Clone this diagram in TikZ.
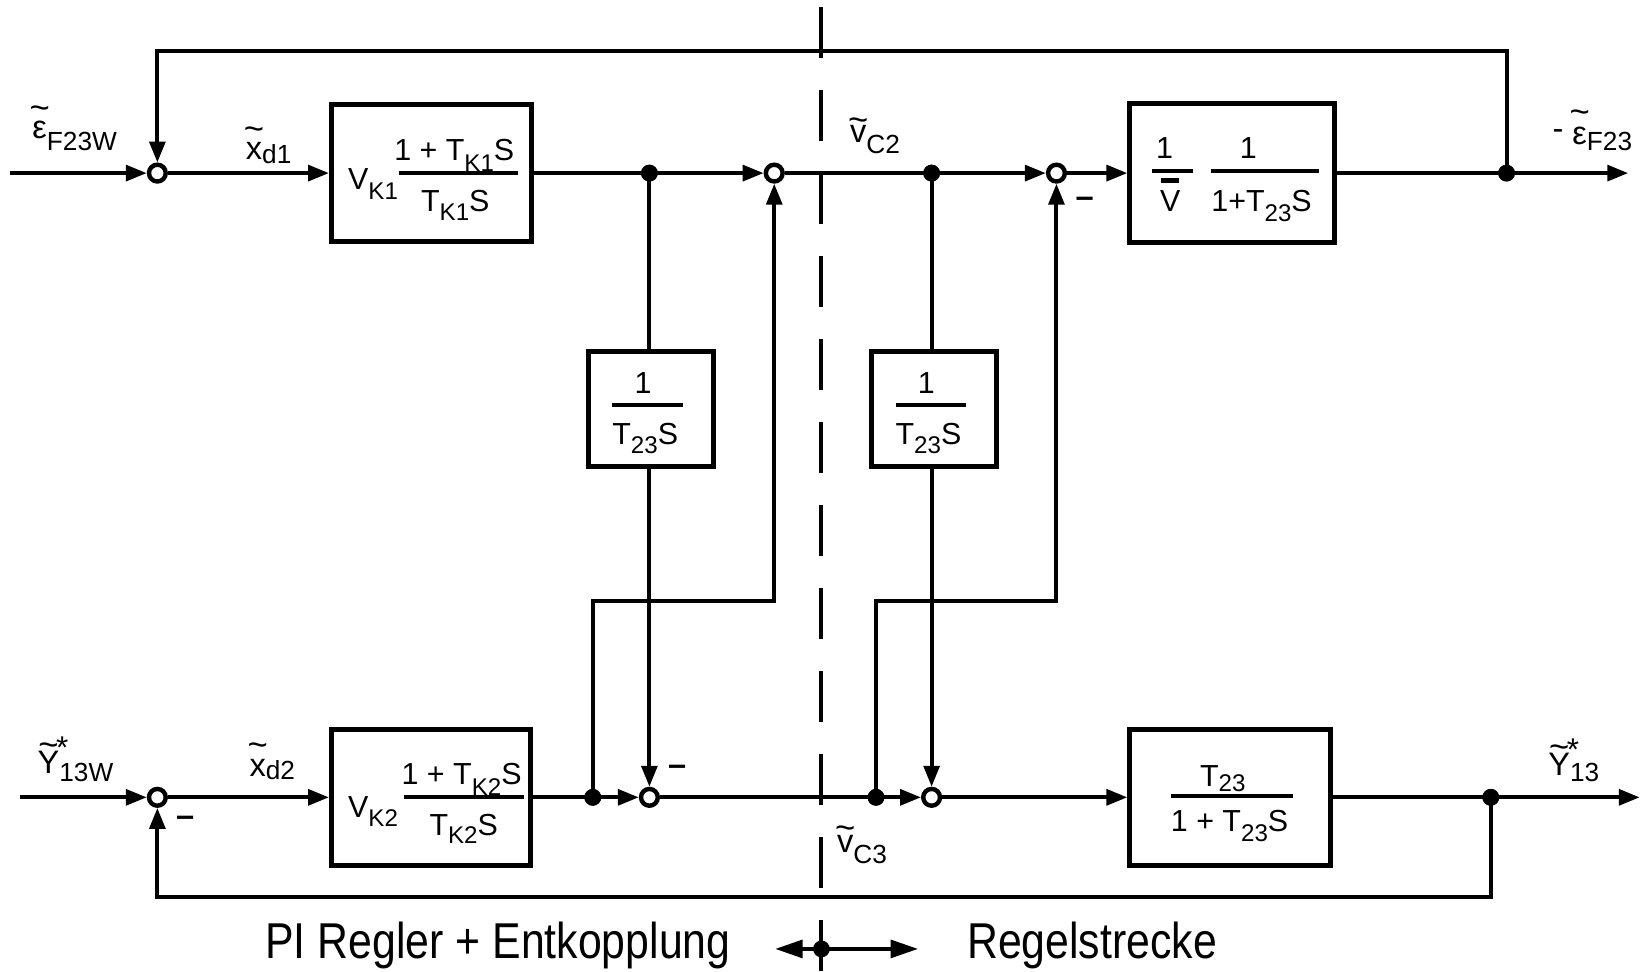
\documentclass[tikz,border=0pt]{standalone}
\usepackage{fontspec}
\setmainfont{Liberation Sans}
\usepackage{graphicx}
\usetikzlibrary{arrows.meta}
\newcommand\bxf{\fontsize{29}{31}\selectfont}
\newcommand\bsb[2][9pt]{\raisebox{-#1}{\fontsize{23}{24}\selectfont #2}}
\newcommand\lbf{\fontsize{31}{33}\selectfont}
\newcommand\lsb[2]{\raisebox{-#1}{\fontsize{25}{26}\selectfont #2}}
\newcommand\tld[2]{\ooalign{#2\cr\hidewidth\raisebox{#1}{\fontsize{33}{33}\selectfont\textasciitilde}\hidewidth\cr}}
\newcommand\str[2]{\rlap{\hspace*{#1}\raisebox{#2}{\fontsize{30}{30}\selectfont *}}}
\begin{document}
\begin{tikzpicture}[x=1pt,y=-1pt,line width=3.8pt,
  arr/.style={-{Triangle[length=20pt,width=15pt]}},
  arrb/.style={line width=3.2pt,-{Triangle[length=26pt,width=17pt]}},
  sumj/.style={circle,draw,line width=4.2pt,fill=white,inner sep=0pt,minimum size=16pt},
  dotj/.style={circle,fill,inner sep=0pt,minimum size=16pt},
  blk/.style={draw,line width=4.8pt,inner sep=0pt},
  txt/.style={inner sep=0pt,font=\bxf},
  lbl/.style={inner sep=0pt,anchor=base west,font=\lbf},
  minus/.style={inner sep=0pt,font=\fontsize{31}{31}\selectfont\bfseries},
  bar/.style={line width=3.8pt}]
\useasboundingbox (0,0) rectangle (1568,926);
% dashed divider
\draw[line width=3.8pt,dash pattern=on 48.6pt off 30.5pt] (783,6.7) -- (783,926);
% routing levels
\coordinate (ytop) at (0,49);
\coordinate (ymid) at (0,573);
\coordinate (ybot) at (0,855);
% top row
\coordinate (in1) at (10,165);
\node[sumj] (s1) at (150,165) {};
\node[blk,minimum width=191pt,minimum height=130pt] (k1) at (411.5,165) {};
\node[dotj] (d1) at (619,165) {};
\node[sumj] (s2) at (738,165) {};
\node[dotj] (d2) at (888,165) {};
\node[sumj] (s4) at (1007,165) {};
\node[blk,minimum width=195pt,minimum height=132pt] (p1) at (1174.5,165) {};
\node[dotj] (d3) at (1436,165) {};
\coordinate (out1) at (1552,165);
% middle boxes
\node[blk,minimum width=119.5pt,minimum height=110pt] (f1) at (620.5,390) {};
\node[blk,minimum width=119pt,minimum height=110pt] (f2) at (890.5,390) {};
% bottom row
\coordinate (in2) at (19,760);
\node[sumj] (s6) at (150,760) {};
\node[blk,minimum width=190pt,minimum height=130pt] (k2) at (411,760) {};
\node[dotj] (d4) at (565,760) {};
\node[sumj] (s3) at (619,760) {};
\node[dotj] (d5) at (835,760) {};
\node[sumj] (s5) at (888,760) {};
\node[blk,minimum width=191pt,minimum height=130pt] (p2) at (1172.5,760) {};
\node[dotj] (d6) at (1421,760) {};
\coordinate (out2) at (1563,760);
% connectors top
\draw[arr] (in1) -- (s1);
\draw[arr] (s1) -- (k1);
\draw[arr] (k1) -- (s2);
\draw[arr] (s2) -- (s4);
\draw[arr] (s4) -- (p1);
\draw[arr] (p1) -- (out1);
\draw[arr] (d3.center) -- (d3 |- ytop) -| (s1);
\draw (d1.center) -- (d1 |- f1.north);
\draw[arr] (d1 |- f1.south) -- (s3);
\draw (d2.center) -- (d2 |- f2.north);
\draw[arr] (d2 |- f2.south) -- (s5);
% connectors bottom
\draw[arr] (in2) -- (s6);
\draw[arr] (s6) -- (k2);
\draw[arr] (k2) -- (s3);
\draw[arr] (s3) -- (s5);
\draw[arr] (s5) -- (p2);
\draw[arr] (p2) -- (out2);
\draw[arr] (d4.center) -- (d4 |- ymid) -| (s2);
\draw[arr] (d5.center) -- (d5 |- ymid) -| (s4);
\draw[arr] (d6.center) -- (d6 |- ybot) -| (s6);
% redraw dots on top
\foreach \d in {d1,d2,d3,d4,d5,d6} \fill (\d) circle (8pt);
% minus signs
\node[minus] (m4) at (1034,193) {–};
\node[minus] (m3) at (645.5,734) {–};
\node[minus] (m6) at (176.5,783) {–};
% box contents K1
\node[txt,anchor=base west] (k1v) at (330,181) {V\bsb{K1}};
\draw[bar] (380,165) -- (494,165);
\node[txt,anchor=base] (k1n) at (433,153) {1 + T\bsb[10pt]{K1}S};
\node[txt,anchor=base] (k1d) at (434,202) {T\bsb[8pt]{K1}S};
% K2
\node[txt,anchor=base west] (k2v) at (330,779) {V\bsb{K2}};
\draw[bar] (385,760) -- (499,760);
\node[txt,anchor=base] (k2n) at (440,748) {1 + T\bsb[10pt]{K2}S};
\node[txt,anchor=base] (k2d) at (442,796) {T\bsb[8pt]{K2}S};
% P1
\node[txt,anchor=base] (p1a) at (1110,151) {1};
\draw[bar] (1098,163) -- (1137,163);
\draw[line width=4pt] (1107,172) -- (1124,172);
\node[txt,anchor=base] (p1v) at (1115.5,202) {V};
\node[txt,anchor=base] (p1b) at (1190,151) {1};
\draw[bar] (1154,163) -- (1257,163);
\node[txt,anchor=base] (p1c) at (1202.5,202) {1+T\bsb{23}S};
% P2
\node[txt,anchor=base] (p2n) at (1165.5,750) {T\bsb[4pt]{23}};
\draw[bar] (1116,759) -- (1232,759);
\node[txt,anchor=base] (p2d) at (1172,793) {1 + T\bsb{23}S};
% F1
\node[txt,anchor=base] (f1n) at (613,375) {1};
\draw[bar] (583,386) -- (651,386);
\node[txt,anchor=base] (f1d) at (615,424) {T\bsb[8pt]{23}S};
% F2
\node[txt,anchor=base] (f2n) at (883,375) {1};
\draw[bar] (854,386) -- (921,386);
\node[txt,anchor=base] (f2d) at (885,424) {T\bsb[8pt]{23}S};
% signal labels
\node[lbl] (leps) at (29,132) {\tld{18pt}{ε}\lsb{11pt}{F23W}};
\node[lbl] (lxd1) at (232.5,152.5) {\tld{19pt}{x}\lsb{3pt}{d1}};
\node[lbl] (lvc2) at (808.5,136) {\tld{11pt}{v}\lsb{10pt}{C2}};
\node[lbl] (leo) at (1478,138) {\raisebox{5pt}{-} \tld{20pt}{ε}\lsb{5pt}{F23}};
\node[lbl] (ly13w) at (34,737) {\tld{16pt}{Y}\str{-3pt}{14pt}\lsb{8pt}{13W}};
\node[lbl] (lxd2) at (236,740) {\tld{19pt}{x}\lsb{3pt}{d2}};
\node[lbl] (lvc3) at (796,813) {\tld{13pt}{v}\lsb{10pt}{C3}};
\node[lbl] (ly13) at (1474,739) {\tld{16pt}{Y}\str{-3pt}{14pt}\lsb{6pt}{13}};
% bottom legend
\node[inner sep=0pt,anchor=base west] (tpi) at (251,914) {\fontsize{48}{50}\selectfont\scalebox{0.85}[1]{PI Regler + Entkopplung}};
\node[inner sep=0pt,anchor=base west] (treg) at (920,914) {\fontsize{48}{50}\selectfont\scalebox{0.85}[1]{Regelstrecke}};
\node[dotj] (dm) at (783,904.5) {};
\coordinate (al) at (739,904.5);
\coordinate (ar) at (875,904.5);
\draw[arrb] (dm.center) -- (al);
\draw[arrb] (dm.center) -- (ar);
\end{tikzpicture}
\end{document}
